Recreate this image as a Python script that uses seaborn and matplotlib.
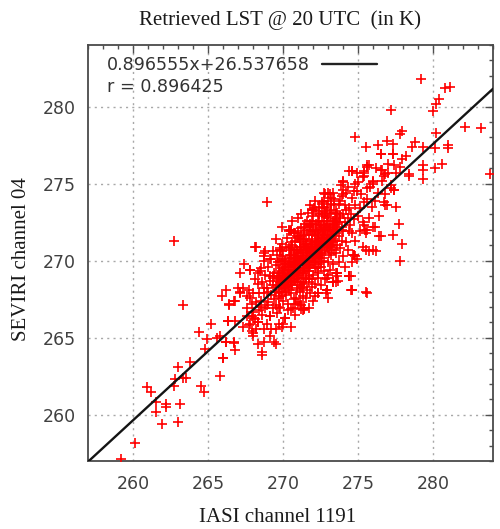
import matplotlib
matplotlib.use("Agg")
import matplotlib.pyplot as plt
from matplotlib.ticker import MultipleLocator
import numpy as np
import pandas as pd
import seaborn as sns

# Fit parameters and correlation shown in the key
fit_slope = 0.896555
fit_intercept = 26.537658
corr_r = 0.896425

title_text = "Retrieved LST @ 20 UTC  (in K)"
x_label = "IASI channel 1191"
y_label = "SEVIRI channel 04"
axis_range = (257, 284)

# Dense cluster of collocated pixels (IASI vs SEVIRI LST, K)
core_x = [
    267.6, 267.7, 267.8, 267.9, 268.0, 268.1, 268.2, 268.3, 268.4, 267.6,
    267.8, 268.0, 268.2, 268.4, 268.1, 267.9, 268.3, 268.45,
    268.5, 268.6, 268.6, 268.7, 268.8, 268.8, 268.9, 269.0, 269.0, 269.1,
    269.1, 269.2, 269.2, 269.3, 269.3, 269.4, 269.4, 268.7, 268.9, 269.0,
    269.2, 269.3, 268.55, 269.45, 268.75, 269.15,
    269.5, 269.5, 269.5, 269.6, 269.6, 269.6, 269.7, 269.7, 269.7, 269.8,
    269.8, 269.8, 269.9, 269.9, 269.9, 270.0, 270.0, 270.0, 270.1, 270.1,
    270.1, 270.2, 270.2, 270.2, 270.3, 270.3, 270.3, 270.4, 270.4, 270.4,
    269.55, 269.65, 269.75, 269.85, 269.95, 270.05, 270.15, 270.25, 270.35, 270.45,
    270.0, 269.9, 270.4,
    270.5, 270.5, 270.5, 270.6, 270.6, 270.6, 270.7, 270.7, 270.7, 270.8,
    270.8, 270.8, 270.9, 270.9, 270.9, 271.0, 271.0, 271.0, 271.1, 271.1,
    271.1, 271.2, 271.2, 271.2, 271.3, 271.3, 271.3, 271.4, 271.4, 271.4,
    270.55, 270.65, 270.75, 270.85, 270.95, 271.05, 271.15, 271.25, 271.35, 271.45,
    270.6, 271.0, 271.3, 270.8, 271.45, 271.1, 270.7, 271.2,
    271.5, 271.5, 271.5, 271.6, 271.6, 271.6, 271.7, 271.7, 271.7, 271.8,
    271.8, 271.8, 271.9, 271.9, 271.9, 272.0, 272.0, 272.0, 272.1, 272.1,
    272.1, 272.2, 272.2, 272.2, 272.3, 272.3, 272.3, 272.4, 272.4, 272.4,
    271.55, 271.65, 271.75, 271.85, 271.95, 272.05, 272.15, 272.25, 272.35, 272.45,
    271.6, 272.0, 271.8, 272.3, 272.45, 271.7, 272.1,
    272.5, 272.5, 272.5, 272.6, 272.6, 272.6, 272.7, 272.7, 272.7, 272.8,
    272.8, 272.8, 272.9, 272.9, 272.9, 273.0, 273.0, 273.0, 273.1, 273.1,
    273.1, 273.2, 273.2, 273.2, 273.3, 273.3, 273.3, 273.4, 273.4, 273.4,
    272.55, 272.75, 272.95, 273.15, 273.35, 272.65, 273.05, 273.25, 272.85, 273.45,
    272.7, 273.0,
    273.5, 273.5, 273.5, 273.6, 273.6, 273.7, 273.7, 273.7, 273.8, 273.8,
    273.9, 273.9, 273.9, 274.0, 274.0, 274.0, 274.1, 274.1, 274.2, 274.2,
    274.3, 274.3, 274.4, 274.4, 273.55, 273.85, 274.15, 274.35, 273.65, 274.45,
    274.5, 274.6, 274.6, 274.7, 274.8, 274.8, 274.9, 275.0, 275.0, 275.1,
    275.1, 275.2, 275.3, 275.3, 275.4, 274.65, 274.95, 275.45,
    275.6, 275.7, 275.8, 275.9, 276.0, 276.1, 276.2, 276.3, 276.4, 275.6,
    276.6, 276.8, 277.0, 277.2, 277.4, 276.7,
    269.6, 269.7, 269.8, 269.9, 270.0, 270.1, 270.2, 270.3, 270.4, 270.5,
    270.6, 270.7, 270.8, 270.9, 271.0, 271.1, 271.2, 271.3, 271.4, 271.5,
    271.6, 271.7, 271.8, 271.9, 272.0, 272.1, 272.2, 272.3, 272.4, 272.5,
    272.6, 272.7, 272.8, 272.9, 273.0, 273.1, 273.2, 273.3, 273.4, 273.5,
    269.65, 269.75, 269.85, 269.95, 270.05, 270.15, 270.25, 270.35, 270.45, 270.55,
    270.65, 270.75, 270.85, 270.95, 271.05, 271.15, 271.25, 271.35, 271.45, 271.55,
    271.65, 271.75, 271.85, 271.95, 272.05, 272.15, 272.25, 272.35, 272.45, 272.55,
    272.65, 272.75, 272.85, 272.95, 273.05, 273.15, 273.25, 273.35, 273.45, 273.55,
    271.0, 271.2, 271.4, 271.6, 271.8, 272.0, 272.2, 272.4, 272.6, 272.8,
    270.4, 270.6, 270.8, 271.0, 271.2, 271.4, 271.6, 271.8, 272.0, 272.2,
    272.4, 272.6, 272.8, 273.0, 273.2, 273.4, 273.6, 273.8, 274.0, 274.2,
    270.9, 271.1, 271.3, 271.5, 271.7, 271.9, 272.1, 272.3, 272.5, 272.7,
    270.0, 270.2, 270.4, 270.6, 270.8, 271.0, 271.2, 271.4, 271.6, 271.8,
    272.0, 272.2, 272.4, 272.6, 272.8, 273.0, 273.2, 273.4, 273.6, 273.8,
    270.1, 270.3, 270.5, 270.7, 270.9, 271.1, 271.3, 271.5, 271.7, 271.9,
    272.1, 272.3, 272.5, 272.7, 272.9, 273.1, 273.3, 273.5, 273.7, 273.9,
    269.3, 269.5, 269.7, 269.9, 270.1, 270.3, 270.5, 270.7, 270.9, 271.1,
    271.3, 271.5, 271.7, 271.9, 272.1, 272.3, 272.5, 272.7, 272.9, 273.1,
]
core_y = [
    266.9, 265.8, 267.6, 266.4, 267.9, 266.2, 267.3, 268.5, 266.8, 267.7,
    265.9, 266.7, 265.6, 267.9, 268.8, 267.2, 266.0, 269.3,
    267.4, 268.6, 266.5, 267.9, 269.1, 266.9, 268.2, 267.3, 269.6, 268.7,
    266.4, 267.8, 270.1, 268.4, 266.9, 269.2, 267.5, 270.3, 265.9, 268.0,
    265.6, 270.6, 269.5, 268.0, 268.2, 269.0,
    268.3, 269.7, 267.1, 268.9, 266.6, 270.4, 268.1, 269.3, 267.6, 270.0,
    268.6, 266.9, 269.5, 268.0, 271.1, 268.9, 267.4, 270.3, 269.2, 268.3,
    266.3, 269.8, 267.8, 270.9, 268.7, 269.4, 267.2, 270.2, 268.1, 269.0,
    271.4, 269.9, 267.0, 268.4, 270.6, 269.6, 268.0, 271.5, 266.8, 269.7,
    265.9, 272.2, 272.0,
    269.1, 270.4, 267.9, 269.6, 268.4, 271.2, 269.0, 270.0, 267.5, 270.7,
    268.8, 269.4, 271.6, 268.2, 269.9, 270.3, 268.6, 267.2, 269.5, 270.9,
    268.0, 269.2, 272.1, 270.5, 268.9, 269.8, 267.7, 271.0, 270.1, 268.5,
    272.0, 266.9, 270.3, 267.6, 270.6, 269.1, 271.4, 268.3, 270.7, 269.5,
    272.6, 272.8, 266.8, 266.5, 272.4, 267.3, 271.8, 273.0,
    270.0, 271.3, 268.8, 270.6, 269.3, 272.0, 270.2, 268.6, 271.7, 269.7,
    270.9, 267.9, 271.4, 269.9, 272.6, 270.5, 269.1, 271.9, 270.1, 268.5,
    271.2, 270.8, 269.5, 272.4, 270.3, 271.6, 268.9, 271.0, 269.8, 273.0,
    267.6, 273.1, 269.0, 272.2, 268.3, 273.4, 267.7, 271.3, 269.2, 272.0,
    268.1, 267.4, 273.6, 267.9, 270.5, 266.9, 273.9,
    270.9, 272.3, 269.6, 271.5, 270.2, 273.1, 271.0, 269.3, 272.6, 270.6,
    271.9, 268.8, 272.4, 270.9, 273.5, 271.3, 269.9, 272.8, 271.0, 269.4,
    272.1, 271.7, 270.4, 273.3, 271.2, 272.6, 269.8, 271.9, 270.7, 274.0,
    268.4, 273.9, 268.9, 274.3, 268.6, 271.8, 270.5, 272.0, 267.9, 272.7,
    274.4, 267.6,
    271.8, 273.2, 270.5, 272.4, 271.0, 273.7, 271.6, 269.9, 272.9, 270.8,
    272.2, 274.2, 271.3, 273.0, 270.3, 271.9, 273.6, 272.5, 271.2, 274.4,
    272.8, 270.7, 273.4, 271.9, 269.2, 274.9, 269.6, 274.8, 268.7, 272.3,
    273.0, 271.8, 274.1, 272.7, 273.6, 271.3, 274.5, 272.9, 275.1, 273.4,
    271.9, 274.3, 272.5, 275.4, 273.8, 270.4, 275.7, 272.0,
    274.0, 272.8, 274.8, 273.5, 275.2, 273.9, 276.0, 274.4, 272.9, 276.1,
    275.2, 274.3, 275.7, 274.9, 276.2, 273.8,
    268.7, 267.9, 269.2, 268.5, 269.4, 268.8, 268.4, 269.9, 268.6, 268.6,
    269.9, 268.7, 269.8, 269.2, 269.8, 269.9, 268.6, 270.3, 269.4, 270.5,
    269.8, 270.9, 270.3, 270.5, 270.0, 270.7, 271.2, 270.8, 270.4, 271.4,
    270.7, 271.5, 271.2, 271.6, 270.8, 271.5, 271.0, 271.7, 272.3, 272.5,
    269.0, 268.4, 267.7, 269.0, 268.2, 270.0, 269.1, 268.3, 270.4, 269.4,
    269.3, 269.2, 270.2, 268.9, 270.5, 269.7, 270.0, 269.2, 270.8, 269.9,
    270.8, 270.0, 271.1, 270.7, 269.9, 271.0, 270.5, 271.7, 270.9, 270.5,
    272.0, 271.2, 272.3, 271.0, 272.0, 271.4, 270.9, 272.2, 271.3, 272.0,
    271.5, 270.9, 271.7, 271.1, 271.9, 272.3, 272.0, 272.5, 272.9, 273.0,
    270.8, 271.0, 271.3, 271.9, 271.6, 272.2, 272.6, 272.4, 272.9, 273.2,
    273.5, 273.8, 273.2, 273.9, 273.7, 273.6, 273.1, 273.9, 274.3, 273.3,
    268.1, 268.4, 268.2, 268.9, 269.3, 268.8, 269.5, 269.6, 269.9, 270.0,
    269.1, 268.9, 269.6, 269.0, 270.1, 269.3, 270.2, 269.7, 270.4, 270.6,
    270.9, 270.2, 271.3, 271.1, 271.7, 272.0, 271.6, 272.6, 272.1, 272.8,
    268.2, 269.3, 268.5, 269.7, 269.0, 270.0, 269.5, 270.9, 269.6, 271.3,
    270.3, 271.9, 270.4, 272.2, 271.1, 272.4, 271.4, 273.0, 272.5, 272.0,
    268.9, 268.0, 268.8, 270.1, 269.8, 268.9, 270.7, 270.5, 270.7, 271.2,
    271.4, 271.1, 272.3, 271.7, 271.8, 272.6, 272.1, 273.4, 272.9, 273.1,
]

# Scattered pixels around the cluster
spread_x = [
    279.2, 280.8, 281.1, 280.4, 280.2, 280.0, 277.2, 282.1, 283.2, 280.2,
    277.9, 277.8, 274.8, 276.9, 275.5, 276.3, 277.3, 278.8, 278.6, 279.3,
    280.1, 281.0, 281.0, 276.5, 277.3, 278.2, 277.9, 277.0, 277.8, 275.7,
    279.3, 279.3, 280.6, 280.1, 276.5, 274.6, 275.4, 277.5, 278.4, 278.4,
    279.3, 283.8, 275.4, 276.7, 274.8, 276.0, 277.2, 277.4, 275.6, 274.75,
    277.4, 276.9, 277.5, 277.7, 276.1, 276.4, 275.5, 275.4, 277.9, 277.8,
    275.3, 275.7, 276.2, 274.8, 274.6, 274.5, 274.6, 275.5, 274.5, 274.7,
    274.4, 273.6, 273.5, 272.9,
    262.7, 268.9, 268.2, 268.8, 271.9, 274.0, 273.3, 272.6, 273.2, 274.4,
    274.0, 270.5, 270.8, 269.8,
    259.2, 260.15, 261.9, 263.0, 261.5, 261.5, 262.2, 262.2, 263.1, 260.9,
    261.2, 262.75, 262.8, 263.0, 263.5, 263.3, 263.8, 263.3, 264.5, 264.7,
    265.8, 264.4, 264.9, 264.8, 265.2, 266.0, 265.6, 265.8, 266.2, 266.75,
    266.8, 266.3, 265.9, 266.2, 266.4, 266.8, 267.15, 267.4, 267.8, 267.15,
    267.3, 268.6, 268.7, 268.3, 269.4, 267.6, 268.0, 268.6, 269.5,
    266.4, 266.7, 267.15, 266.3, 266.8, 267.3, 267.9, 268.0, 269.15, 269.5,
    268.7, 268.3, 268.0, 268.9, 268.5, 269.15, 269.7, 269.9, 270.15, 270.5,
    271.4, 271.2, 266.7, 266.2, 266.0, 268.15, 268.7, 267.8, 267.0, 267.7,
    268.7, 268.3, 269.15, 269.8, 269.3, 272.9, 274.7, 274.4, 273.6,
    269.8, 270.5, 270.4, 271.4, 272.0, 272.8, 273.0, 274.0, 274.6, 275.4,
    275.6, 276.5, 277.3, 276.6, 276.8, 276.0, 276.8, 276.0, 276.5, 277.3,
    275.5, 276.0, 275.6, 274.9, 274.4, 274.6, 275.6, 273.0, 273.3, 273.6,
    272.3, 272.9, 271.2, 271.4, 270.5, 270.8,
]
spread_y = [
    281.8, 281.2, 281.3, 280.5, 280.2, 279.7, 279.8, 278.7, 278.6, 278.3,
    278.4, 278.2, 278.0, 277.8, 277.4, 277.5, 277.6, 277.7, 277.4, 277.4,
    277.3, 277.5, 277.3, 276.9, 276.9, 276.8, 276.6, 276.3, 276.1, 276.2,
    276.2, 275.9, 276.3, 276.0, 275.9, 275.8, 275.8, 275.7, 275.6, 275.5,
    275.3, 275.6, 275.5, 275.5, 275.0, 275.1, 274.7, 274.6, 274.7, 274.5,
    274.6, 273.6, 273.5, 272.4, 272.2, 271.6, 271.8, 272.3, 271.1, 270.0,
    270.9, 270.6, 270.6, 270.3, 269.9, 269.0, 268.1, 268.0, 268.1, 270.4,
    269.0, 269.2, 268.6, 268.1,
    271.3, 273.8, 270.9, 270.6, 273.3, 275.2, 274.4, 273.7, 274.1, 275.8,
    274.6, 271.9, 271.8, 270.8,
    257.1, 258.2, 259.4, 259.5, 260.2, 260.8, 260.7, 260.5, 260.7, 261.8,
    261.5, 261.9, 262.3, 263.1, 262.4, 262.4, 263.4, 267.1, 261.85, 261.5,
    262.5, 265.4, 264.9, 264.3, 265.9, 263.7, 265.0, 265.1, 264.7, 264.65,
    264.2, 266.1, 267.7, 268.1, 267.2, 267.4, 269.2, 269.8, 269.4, 268.0,
    268.2, 264.05, 264.7, 264.6, 264.7, 266.4, 265.3, 263.9, 264.6,
    267.1, 267.4, 267.9, 266.1, 266.1, 265.7, 265.45, 265.1, 265.1, 265.6,
    265.6, 266.0, 266.3, 267.1, 267.0, 266.4, 265.9, 265.7, 266.3, 265.7,
    266.85, 266.85, 264.7, 264.7, 263.7, 270.9, 270.5, 269.4, 268.25, 268.1,
    270.0, 269.2, 270.1, 270.7, 269.0, 268.1, 270.4, 269.0, 269.2,
    270.7, 270.9, 271.9, 271.8, 273.3, 274.3, 274.4, 275.1, 275.8, 275.7,
    276.2, 276.9, 276.9, 275.9, 275.6, 275.0, 273.6, 272.2, 271.6, 271.7,
    270.7, 270.7, 272.0, 270.1, 269.0, 268.1, 267.9, 269.1, 268.6, 269.0,
    267.9, 268.1, 267.1, 266.9, 266.85, 267.2,
]

df = pd.DataFrame({
    "iasi": core_x + spread_x,
    "seviri": core_y + spread_y,
})

sns.set_theme(style="white")
plt.rcParams["font.family"] = ["DejaVu Sans"]

fig = plt.figure(figsize=(5.0, 5.29), dpi=100)
ax = fig.add_axes([0.176, 0.1285, 0.81, 0.7865])

sns.scatterplot(data=df, x="iasi", y="seviri", marker="+", color="#ff0000",
                s=46, linewidth=1.2, legend=False, ax=ax, zorder=3)

# Linear fit
ax.axline((0.0, fit_intercept), slope=fit_slope, color="#141414", lw=1.7, zorder=4)

ax.set_xlim(*axis_range)
ax.set_ylim(*axis_range)
for axis in (ax.xaxis, ax.yaxis):
    axis.set_major_locator(MultipleLocator(5))
    axis.set_minor_locator(MultipleLocator(1))

ax.tick_params(which="both", direction="in", top=True, right=True,
               color="#505050", width=1.0, labelsize=12.5, labelcolor="#404040")
ax.tick_params(which="major", length=6)
ax.tick_params(which="minor", length=3)
ax.tick_params(axis="y", pad=9)
ax.tick_params(axis="x", pad=10)

for sp in ax.spines.values():
    sp.set_color("#4a4a4a")
    sp.set_linewidth(1.3)

ax.set_axisbelow(True)
ax.grid(True, which="major", color="#a8a8a8", lw=1.0, linestyle=(0, (1.5, 3)))

serif = ["Liberation Serif", "DejaVu Serif"]
ax.set_xlabel(x_label, family=serif, fontsize=15, color="#1a1a1a")
ax.set_ylabel(y_label, family=serif, fontsize=15, color="#1a1a1a")
ax.xaxis.set_label_coords(0.467, (461 - 517) / 416)
ax.xaxis.label.set_va("center")
ax.yaxis.set_label_coords(-0.165, 0.486)
ax.yaxis.label.set_va("center")

fig.text(0.56, 0.962, title_text, ha="center", va="center",
         family=serif, fontsize=15, color="#1a1a1a")

# Key: fit equation with line sample, and correlation coefficient
ax.text(0.047, 0.952, f"{fit_slope:.6f}x+{fit_intercept:.6f}", transform=ax.transAxes,
        ha="left", va="center", fontsize=12.6, color="#333333", zorder=5)
ax.plot([0.578, 0.714], [0.954, 0.954], transform=ax.transAxes,
        color="#222222", lw=1.7, zorder=5)
ax.text(0.047, 0.900, f"r = {corr_r:.6f}", transform=ax.transAxes,
        ha="left", va="center", fontsize=12.6, color="#333333", zorder=5)

fig.savefig("out.png", dpi=100)
